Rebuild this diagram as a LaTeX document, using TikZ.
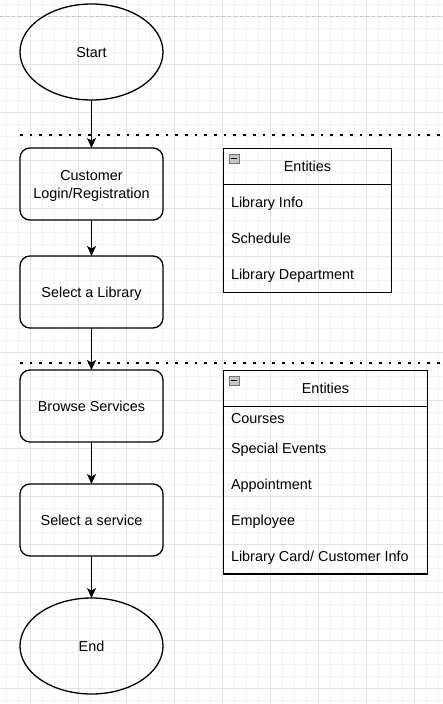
\documentclass[tikz,border=0pt]{standalone}
\usepackage{fontspec}
\setmainfont{Liberation Sans}
\usetikzlibrary{shapes.geometric,arrows.meta,positioning}
\definecolor{gmaj}{HTML}{E3E3E3}
\definecolor{gmin}{HTML}{F4F4F4}
\definecolor{page}{HTML}{C4C4C4}
\newcommand{\mb}[2]{\draw[gray!90!black, fill=gray!45] (#1,#2) rectangle ++(10,9); \draw[line width=1.3pt] ({#1+2},{#2+4.5}) -- ++(6,0);}
\newcommand{\sep}[1]{\draw[line width=2.7pt, dash pattern=on 2.7pt off 7pt] (20,#1) -- (443,#1);}
\tikzset{
  every node/.style={font=\fontsize{14.4pt}{18pt}\selectfont, outer sep=0pt, text height=10.3pt, text depth=0pt},
  term/.style={draw, line width=1.3pt, ellipse, minimum width=143pt, minimum height=96pt, inner sep=0pt},
  stepbox/.style={draw, line width=1.3pt, rounded corners=10pt, minimum width=143pt, minimum height=72pt, align=center, inner sep=0pt},
  ehead/.style={draw, line width=1.3pt, minimum height=36pt, inner sep=0pt},
  ebody/.style={draw, line width=1.3pt, inner sep=0pt},
  item/.style={anchor=west, inner sep=0pt},
  flow/.style={line width=1.4pt, -{Stealth[length=10pt, width=9pt, inset=2.5pt]}}
}
\begin{document}
\begin{tikzpicture}[x=1pt, y=-1pt]
  \useasboundingbox (0,0) rectangle (443,704);
  % grid
  \foreach \i in {0,...,36} {\draw[gmin] ({6.5+12*\i},0) -- ++(0,704);}
  \foreach \i in {0,...,58} {\draw[gmin] (0,{4.3+12*\i}) -- ++(443,0);}
  \foreach \i in {0,...,8}  {\draw[gmaj, line width=1pt] ({30.5+48*\i},0) -- ++(0,704);}
  \foreach \i in {0,...,14} {\draw[gmaj, line width=1pt] (0,{16.3+48*\i}) -- ++(443,0);}
  \draw[page, line width=1pt, dashed] (0,16.3) -- (443,16.3);
  \sep{135} \sep{363} % dotted separators

  % flow
  \node[term]    (start)  at (91.5,52)  {Start};
  \node[stepbox, text height=, text depth=] (login) at (91.5,184) {\rule{0pt}{13.8pt}Customer\\Login/Registration};
  \node[stepbox] (lib)    at (91.5,292) {Select a Library};
  \node[stepbox] (browse) at (91.5,406) {Browse Services};
  \node[stepbox] (serv)   at (91.5,520) {Select a service};
  \node[term]    (end)    at (91.5,646) {End};
  \draw[flow] (start) -- (login);
  \draw[flow] (login) -- (lib);
  \draw[flow] (lib) -- (browse);
  \draw[flow] (browse) -- (serv);
  \draw[flow] (serv) -- (end);

  % entities
  \node[ehead, minimum width=168.4pt] (infoHead) at (307.5,166.2) {Entities};
  \node[ebody, minimum width=168.4pt, minimum height=108pt, below=0pt of infoHead] (infoBody) {};
  \mb{229}{154.2}
  \foreach \t [count=\k] in {Library Info, Schedule, Library Department}
    {\node[item] (info\k) at (231,{166+36*\k}) {\t};}

  \node[ehead, minimum width=204.4pt] (svcHead) at (325.5,388.3) {Entities};
  \node[ebody, minimum width=204.4pt, minimum height=167.6pt, below=0pt of svcHead] (svcBody) {};
  \mb{229}{376.3}
  \foreach \y/\t [count=\k] in {418.3/Courses, 448.3/Special Events, 484.3/Appointment, 520/Employee, 556/{Library Card/ Customer Info}}
    {\node[item] (svc\k) at (231,\y) {\t};}
\end{tikzpicture}
\end{document}
